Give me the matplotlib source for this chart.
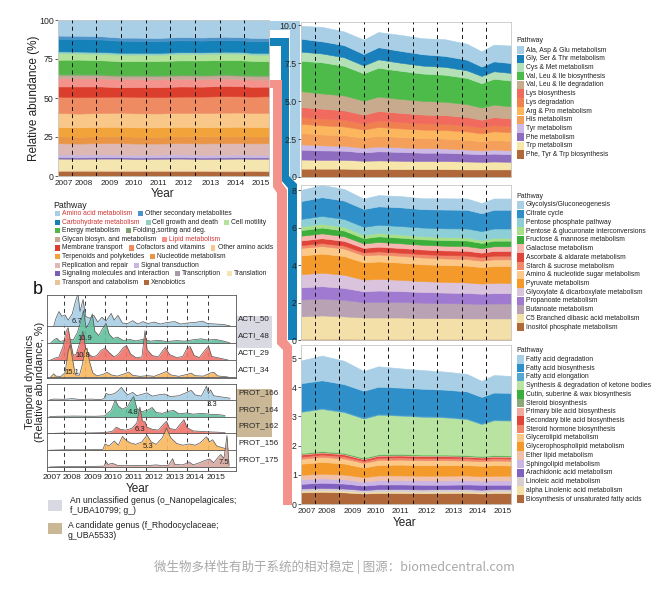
import numpy as np
import matplotlib
matplotlib.use("Agg")
import matplotlib.pyplot as plt
from matplotlib.patches import Rectangle, Polygon

plt.rcParams['font.family'] = ['Liberation Sans', 'DejaVu Sans']

W, H = 672, 596

# ---------------- data ----------------
# time points (fractional year) used for the pathway panels
t_path = [2007.45, 2008.3, 2009.2, 2010.0, 2010.6, 2011.5, 2012.4, 2013.3, 2014.2, 2014.8, 2015.3, 2016.0]
years = [2007, 2008, 2009, 2010, 2011, 2012, 2013, 2014, 2015]
year_labels = [str(y) for y in years]

# panel a : relative abundance (%) of KEGG level-2 pathways, bottom -> top
a_names = ["Xenobiotics", "Transport and catabolism", "Translation", "Transcription",
           "Signaling molecules and interaction", "Signal transduction", "Replication and repair",
           "Nucleotide metabolism", "Terpenoids and polyketides", "Other amino acids",
           "Cofactors and vitamins", "Membrane transport", "Lipid metabolism",
           "Glycan biosyn. and metabolism", "Folding,sorting and deg.", "Energy metabolism",
           "Cell motility", "Cell growth and death", "Carbohydrate metabolism",
           "Other secondary metabolites", "Amino acid metabolism"]
a_colors = ["#b0673a", "#e9c49a", "#f5e6b0", "#a99aa9", "#7b5cb6", "#c7b7e2", "#ddb8b4",
            "#ea9446", "#f2a43a", "#f9c889", "#ef8b63", "#dc3e2d", "#f4938c", "#c9a796",
            "#7fa572", "#52b747", "#b3e39b", "#93d0c2", "#1482b8", "#4b93c8", "#a9cfe6"]
a_values = [
    [3.2, 3.3, 3.2, 3.1, 3.2, 3.2, 3.1, 3.1, 3.0, 3.0, 3.1, 3.0],
    [0.6, 0.6, 0.7, 0.6, 0.6, 0.6, 0.7, 0.6, 0.6, 0.6, 0.6, 0.6],
    [7.2, 7.0, 7.1, 7.3, 7.0, 7.1, 7.2, 7.1, 7.3, 7.4, 7.2, 7.3],
    [0.4, 0.4, 0.4, 0.4, 0.4, 0.4, 0.4, 0.4, 0.4, 0.4, 0.4, 0.4],
    [0.6, 0.6, 0.6, 0.6, 0.6, 0.6, 0.6, 0.6, 0.6, 0.6, 0.6, 0.6],
    [1.8, 1.9, 1.8, 1.7, 1.8, 1.8, 1.9, 1.8, 1.7, 1.8, 1.8, 1.8],
    [7.2, 7.0, 7.3, 7.4, 7.2, 7.1, 7.2, 7.3, 7.4, 7.3, 7.2, 7.3],
    [4.4, 4.3, 4.4, 4.5, 4.4, 4.3, 4.4, 4.5, 4.4, 4.5, 4.4, 4.4],
    [6.0, 6.1, 6.0, 5.9, 6.0, 6.1, 6.0, 5.9, 6.0, 6.0, 6.1, 6.0],
    [9.0, 8.8, 8.9, 9.1, 9.0, 8.9, 9.0, 9.1, 9.2, 9.1, 9.0, 9.1],
    [10.5, 10.6, 10.4, 10.3, 10.6, 10.5, 10.4, 10.5, 10.6, 10.4, 10.5, 10.6],
    [6.5, 6.8, 6.6, 6.0, 6.2, 6.4, 6.5, 6.4, 6.6, 6.5, 6.3, 6.2],
    [5.3, 5.2, 5.1, 5.1, 5.0, 4.9, 4.9, 4.8, 4.7, 4.6, 4.6, 4.5],
    [2.2, 2.2, 2.1, 2.2, 2.2, 2.1, 2.2, 2.2, 2.1, 2.2, 2.2, 2.2],
    [0.6, 0.6, 0.6, 0.6, 0.6, 0.6, 0.6, 0.6, 0.6, 0.6, 0.6, 0.6],
    [9.0, 9.2, 9.0, 8.8, 8.9, 9.1, 9.0, 9.2, 9.1, 9.3, 9.2, 9.0],
    [4.2, 4.0, 4.1, 4.2, 4.1, 4.0, 4.1, 4.0, 4.2, 4.1, 4.0, 4.1],
    [1.2, 1.2, 1.2, 1.2, 1.2, 1.2, 1.2, 1.2, 1.2, 1.2, 1.2, 1.2],
    [8.0, 8.1, 8.0, 7.7, 7.6, 7.6, 7.6, 7.5, 7.5, 7.4, 7.5, 7.5],
    [2.1, 2.0, 2.1, 2.0, 2.1, 2.0, 2.1, 2.0, 2.1, 2.0, 2.1, 2.0],
]
a_red_names = ["Amino acid metabolism", "Carbohydrate metabolism", "Lipid metabolism"]
a_key_rows = [
    ["Amino acid metabolism", "Other secondary metabolites"],
    ["Carbohydrate metabolism", "Cell growth and death", "Cell motility"],
    ["Energy metabolism", "Folding,sorting and deg."],
    ["Glycan biosyn. and metabolism", "Lipid metabolism"],
    ["Membrane transport", "Cofactors and vitamins", "Other amino acids"],
    ["Terpenoids and polyketides", "Nucleotide metabolism"],
    ["Replication and repair", "Signal transduction"],
    ["Signaling molecules and interaction", "Transcription", "Translation"],
    ["Transport and catabolism", "Xenobiotics"],
]

# right top : amino acid metabolism, bottom -> top
aa_names = ["Phe, Tyr & Trp biosynthesis", "Trp metabolism", "Phe metabolism", "Tyr metabolism",
            "His metabolism", "Arg & Pro metabolism", "Lys degradation", "Lys biosynthesis",
            "Val, Leu & Ile degradation", "Val, Leu & Ile biosynthesis", "Cys & Met metabolism",
            "Gly, Ser & Thr metabolism", "Ala, Asp & Glu metabolism"]
aa_colors = ["#b0673a", "#f7e6aa", "#8e6cc0", "#cdb9e6", "#f4a05a", "#fbb65e", "#f08050",
             "#f06a5e", "#c8ab8d", "#4dbb4a", "#b4e0b8", "#1a80bb", "#a9cfe6"]
aa_values = [
    [0.55, 0.55, 0.55, 0.52, 0.53, 0.52, 0.52, 0.52, 0.50, 0.50, 0.50, 0.50],
    [0.60, 0.58, 0.58, 0.55, 0.56, 0.55, 0.53, 0.53, 0.52, 0.50, 0.52, 0.50],
    [0.65, 0.62, 0.60, 0.55, 0.60, 0.58, 0.55, 0.55, 0.52, 0.50, 0.52, 0.50],
    [0.35, 0.33, 0.32, 0.30, 0.32, 0.30, 0.30, 0.28, 0.27, 0.25, 0.27, 0.25],
    [0.75, 0.72, 0.70, 0.65, 0.70, 0.68, 0.66, 0.65, 0.63, 0.60, 0.63, 0.62],
    [0.60, 0.60, 0.58, 0.55, 0.58, 0.57, 0.56, 0.56, 0.56, 0.52, 0.57, 0.58],
    [0.45, 0.45, 0.44, 0.40, 0.43, 0.42, 0.41, 0.41, 0.40, 0.38, 0.40, 0.40],
    [0.65, 0.65, 0.62, 0.58, 0.62, 0.60, 0.58, 0.57, 0.55, 0.52, 0.53, 0.50],
    [1.05, 1.00, 0.98, 0.92, 0.95, 0.92, 0.90, 0.88, 0.85, 0.80, 0.82, 0.80],
    [2.00, 2.05, 1.95, 1.80, 1.90, 1.85, 1.80, 1.78, 1.72, 1.60, 1.70, 1.70],
    [0.60, 0.58, 0.56, 0.52, 0.55, 0.53, 0.52, 0.52, 0.50, 0.48, 0.50, 0.50],
    [0.85, 0.80, 0.80, 0.75, 0.80, 0.78, 0.75, 0.72, 0.70, 0.62, 0.65, 0.65],
    [0.85, 0.95, 0.90, 0.95, 1.00, 1.05, 1.05, 1.10, 1.05, 1.00, 1.10, 1.15],
]

# right middle : carbohydrate metabolism, bottom -> top
cb_names = ["Inositol phosphate metabolism", "C5 Branched dibasic acid metabolism",
            "Butanoate metabolism", "Propanoate metabolism", "Glyoxylate & dicarboxylate metabolism",
            "Pyruvate metabolism", "Amino & nucleotide sugar metabolism", "Starch & sucrose metabolism",
            "Ascorbate & aldarate metabolism", "Galactose metabolism", "Fructose & mannose metabolism",
            "Pentose & glucuronate interconversions", "Pentose phosphate pathway", "Citrate cycle",
            "Glycolysis/Gluconeogenesis"]
cb_colors = ["#b0673a", "#f3e0a8", "#b9a2b4", "#a07ad0", "#dac3dc", "#f39a2a", "#fcc888",
             "#f08a6a", "#e0453a", "#f4b8b0", "#3cae3c", "#a8e08a", "#8ccfd6", "#2f8fc8", "#a9cfe6"]
cb_values = [
    [0.06, 0.06, 0.06, 0.05, 0.05, 0.05, 0.05, 0.05, 0.05, 0.05, 0.05, 0.05],
    [1.20, 1.25, 1.20, 1.15, 1.15, 1.15, 1.12, 1.12, 1.10, 1.10, 1.10, 1.10],
    [0.90, 0.90, 0.88, 0.82, 0.84, 0.83, 0.82, 0.80, 0.80, 0.78, 0.80, 0.80],
    [0.65, 0.66, 0.64, 0.58, 0.60, 0.58, 0.57, 0.56, 0.56, 0.54, 0.55, 0.55],
    [0.70, 0.72, 0.70, 0.62, 0.62, 0.60, 0.58, 0.57, 0.56, 0.54, 0.55, 0.55],
    [1.00, 1.02, 1.00, 0.92, 0.93, 0.92, 0.90, 0.90, 0.90, 0.88, 0.90, 0.90],
    [0.40, 0.40, 0.40, 0.37, 0.37, 0.36, 0.36, 0.35, 0.35, 0.34, 0.35, 0.35],
    [0.15, 0.16, 0.16, 0.16, 0.17, 0.17, 0.18, 0.18, 0.19, 0.19, 0.20, 0.20],
    [0.25, 0.26, 0.25, 0.24, 0.25, 0.25, 0.25, 0.25, 0.25, 0.24, 0.25, 0.25],
    [0.25, 0.26, 0.25, 0.24, 0.25, 0.25, 0.25, 0.25, 0.25, 0.24, 0.25, 0.25],
    [0.30, 0.31, 0.30, 0.28, 0.30, 0.30, 0.29, 0.30, 0.30, 0.28, 0.30, 0.30],
    [0.20, 0.20, 0.20, 0.18, 0.18, 0.17, 0.17, 0.16, 0.16, 0.15, 0.15, 0.15],
    [0.40, 0.42, 0.42, 0.43, 0.44, 0.45, 0.46, 0.47, 0.48, 0.48, 0.50, 0.50],
    [0.95, 1.00, 0.98, 0.95, 0.98, 1.00, 0.98, 1.00, 1.00, 0.95, 1.00, 1.00],
    [0.60, 0.65, 0.62, 0.55, 0.60, 0.60, 0.58, 0.60, 0.60, 0.55, 0.60, 0.60],
]

# right bottom : lipid metabolism, bottom -> top
lp_names = ["Biosynthesis of unsaturated fatty acids", "alpha Linolenic acid metabolism",
            "Linoleic acid metabolism", "Arachidonic acid metabolism", "Sphingolipid metabolism",
            "Ether lipid metabolism", "Glycerophospholipid metabolism", "Glycerolipid metabolism",
            "Steroid hormone biosynthesis", "Secondary bile acid biosynthesis",
            "Primary bile acid biosynthesis", "Steroid biosynthesis", "Cutin, suberine & wax biosynthesis",
            "Synthesis & degradation of ketone bodies", "Fatty acid elongation",
            "Fatty acid biosynthesis", "Fatty acid degradation"]
lp_colors = ["#b0673a", "#f3e0a8", "#d8cdd0", "#8060c0", "#cbb5e5", "#f0c0a8", "#f39a2a",
             "#fcc888", "#f0866a", "#e0453a", "#f4a8a0", "#8aa878", "#3cae3c", "#b8e3a0",
             "#56a8d0", "#2f8fc8", "#a9cfe6"]
lp_values = [
    [0.40, 0.42, 0.40, 0.36, 0.38, 0.38, 0.37, 0.38, 0.38, 0.36, 0.38, 0.38],
    [0.05, 0.05, 0.05, 0.05, 0.05, 0.05, 0.05, 0.05, 0.05, 0.05, 0.05, 0.05],
    [0.08, 0.08, 0.08, 0.07, 0.08, 0.08, 0.08, 0.08, 0.08, 0.08, 0.08, 0.08],
    [0.16, 0.18, 0.17, 0.15, 0.16, 0.16, 0.16, 0.15, 0.16, 0.17, 0.15, 0.15],
    [0.15, 0.15, 0.15, 0.14, 0.15, 0.15, 0.15, 0.15, 0.15, 0.14, 0.15, 0.15],
    [0.16, 0.16, 0.16, 0.15, 0.16, 0.16, 0.16, 0.16, 0.16, 0.15, 0.16, 0.16],
    [0.38, 0.40, 0.38, 0.33, 0.36, 0.37, 0.36, 0.36, 0.35, 0.36, 0.36, 0.35],
    [0.17, 0.18, 0.17, 0.16, 0.17, 0.17, 0.17, 0.17, 0.16, 0.16, 0.16, 0.16],
    [0.08, 0.08, 0.08, 0.07, 0.08, 0.08, 0.08, 0.08, 0.08, 0.07, 0.08, 0.08],
    [0.06, 0.06, 0.06, 0.05, 0.06, 0.06, 0.06, 0.06, 0.05, 0.05, 0.05, 0.05],
    [0.02, 0.02, 0.02, 0.02, 0.02, 0.02, 0.02, 0.02, 0.02, 0.02, 0.02, 0.02],
    [0.02, 0.02, 0.02, 0.02, 0.02, 0.02, 0.02, 0.02, 0.02, 0.02, 0.02, 0.02],
    [0.01, 0.01, 0.01, 0.01, 0.01, 0.01, 0.01, 0.01, 0.01, 0.01, 0.01, 0.01],
    [1.42, 1.45, 1.40, 1.35, 1.36, 1.32, 1.30, 1.28, 1.24, 1.10, 1.20, 1.20],
    [0.03, 0.03, 0.03, 0.03, 0.03, 0.03, 0.03, 0.03, 0.03, 0.03, 0.03, 0.03],
    [0.95, 0.95, 0.93, 0.92, 0.93, 0.93, 0.93, 0.92, 0.92, 0.90, 0.92, 0.92],
    [0.78, 0.85, 0.80, 0.68, 0.70, 0.66, 0.64, 0.62, 0.60, 0.55, 0.60, 0.58],
]

# panel b : temporal dynamics of selected genomes (relative abundance, %)
acti50_t = [2007.5, 2007.6, 2007.75, 2007.9, 2008.05, 2008.2, 2008.4, 2008.55, 2008.68, 2008.78, 2008.93,
            2009.05, 2009.25, 2009.45, 2009.65, 2009.85, 2010.05, 2010.3, 2010.45, 2010.63, 2010.85,
            2011.1, 2011.35, 2011.6, 2011.85, 2012.1, 2012.4, 2012.7, 2013.0, 2013.4, 2013.7, 2014.0,
            2014.5, 2014.75, 2015.0, 2015.4, 2015.8, 2016.1]
acti50_v = [0.0, 1.5, 3.0, 2.0, 2.3, 1.2, 2.5, 5.0, 6.7, 3.0, 5.5, 2.0, 1.6, 2.2, 0.8, 1.8, 1.0, 2.6,
            1.2, 2.2, 0.6, 0.5, 1.1, 0.4, 0.9, 0.5, 0.8, 0.4, 0.7, 0.9, 0.4, 0.6, 0.8, 1.0, 0.5, 0.4,
            0.3, 0.0]
acti48_t = [2007.35, 2007.5, 2007.65, 2007.8, 2008.0, 2008.2, 2008.45, 2008.65, 2008.85, 2008.95, 2009.08,
            2009.25, 2009.38, 2009.5, 2009.7, 2009.85, 2010.05, 2010.2, 2010.4, 2010.6, 2010.9, 2011.2,
            2011.5, 2011.9, 2012.2, 2012.6, 2013.0, 2013.5, 2013.9, 2014.3, 2014.7, 2015.0, 2015.4,
            2015.8, 2016.1]
acti48_v = [0.0, 1.0, 1.6, 0.5, 0.8, 1.5, 1.0, 3.5, 8.0, 10.9, 5.0, 7.0, 9.8, 4.0, 2.5, 4.5, 6.6, 3.0,
            1.5, 2.0, 0.8, 1.2, 0.7, 1.3, 0.6, 0.9, 0.5, 0.8, 0.6, 1.1, 1.4, 1.0, 1.2, 0.6, 0.0]
acti29_t = [2007.35, 2007.55, 2007.75, 2007.95, 2008.1, 2008.2, 2008.32, 2008.45, 2008.6, 2008.8, 2008.92,
            2009.05, 2009.2, 2009.4, 2009.6, 2009.8, 2010.0, 2010.2, 2010.45, 2010.65, 2010.9, 2011.05,
            2011.25, 2011.5, 2011.8, 2011.95, 2012.05, 2012.3, 2012.6, 2012.8, 2012.95, 2013.15, 2013.5,
            2013.8, 2014.0, 2014.15, 2014.35, 2014.6, 2014.9, 2015.05, 2015.2, 2015.6, 2016.0]
acti29_v = [0.0, 0.6, 1.0, 4.5, 9.5, 10.8, 6.0, 1.5, 2.0, 6.5, 9.6, 4.0, 2.0, 1.0, 1.5, 3.2, 4.0, 2.5,
            1.0, 2.0, 4.2, 4.8, 2.0, 0.8, 1.0, 9.8, 3.5, 1.5, 1.0, 3.0, 4.2, 1.8, 0.8, 1.2, 4.0, 4.5,
            1.5, 0.8, 3.5, 4.6, 1.2, 0.6, 0.0]
acti34_t = [2007.35, 2007.5, 2007.6, 2007.85, 2008.05, 2008.2, 2008.3, 2008.42, 2008.55, 2008.75, 2008.9,
            2009.0, 2009.12, 2009.25, 2009.4, 2009.6, 2009.9, 2010.1, 2010.3, 2010.6, 2010.95, 2011.15,
            2011.35, 2011.7, 2012.1, 2012.4, 2012.8, 2013.0, 2013.2, 2013.6, 2014.0, 2014.2, 2014.4,
            2014.8, 2015.15, 2015.3, 2015.5, 2015.8, 2016.0]
acti34_v = [0.0, 1.5, 0.4, 0.3, 2.0, 12.0, 15.1, 8.0, 1.0, 0.8, 6.0, 12.5, 13.5, 7.0, 2.0, 0.5, 1.2,
            2.2, 1.0, 0.4, 1.5, 2.3, 0.8, 0.3, 0.6, 0.3, 1.8, 2.6, 1.0, 0.3, 1.2, 1.8, 0.6, 0.4, 1.9,
            2.2, 0.5, 0.2, 0.0]
prot166_t = [2007.3, 2007.5, 2008.0, 2008.4, 2008.8, 2009.3, 2009.8, 2009.95, 2010.05, 2010.2, 2010.45,
             2010.6, 2010.8, 2010.95, 2011.1, 2011.35, 2011.55, 2011.85, 2012.05, 2012.3, 2012.6, 2012.9,
             2013.2, 2013.6, 2014.0, 2014.2, 2014.4, 2014.7, 2014.95, 2015.05, 2015.15, 2015.3, 2015.7,
             2016.1]
prot166_v = [0.0, 0.2, 0.15, 0.3, 0.1, 0.2, 0.1, 0.3, 1.6, 1.2, 1.5, 2.0, 3.0, 2.0, 1.2, 1.8, 1.0, 1.4,
             1.7, 0.9, 1.2, 1.4, 0.8, 1.0, 1.8, 2.3, 1.2, 0.9, 3.3, 1.5, 2.4, 1.0, 0.7, 0.4]
prot164_t = [2007.3, 2007.6, 2008.5, 2009.5, 2010.0, 2010.1, 2010.3, 2010.5, 2010.65, 2010.85, 2011.1,
             2011.3, 2011.4, 2011.55, 2011.8, 2012.1, 2012.3, 2012.5, 2012.8, 2013.1, 2013.35, 2013.6,
             2014.0, 2014.3, 2014.7, 2015.1, 2015.5, 2015.85]
prot164_v = [0.0, 0.1, 0.15, 0.1, 0.2, 0.8, 1.5, 4.0, 2.5, 1.8, 2.4, 4.2, 4.8, 2.0, 1.2, 1.6, 2.2, 1.0,
             0.8, 1.3, 1.5, 0.7, 0.9, 0.6, 0.8, 0.6, 0.5, 0.3]
prot162_t = [2007.3, 2008.0, 2009.0, 2010.0, 2010.35, 2010.55, 2010.75, 2011.0, 2011.3, 2011.55, 2011.7,
             2011.82, 2011.95, 2012.05, 2012.3, 2012.6, 2012.85, 2013.0, 2013.15, 2013.45, 2013.7,
             2013.85, 2014.0, 2014.3, 2014.7, 2015.0, 2015.5, 2015.85]
prot162_v = [0.0, 0.1, 0.1, 0.2, 0.5, 1.5, 1.0, 0.8, 1.2, 2.5, 6.3, 3.0, 2.8, 1.5, 1.0, 0.8, 2.2, 2.9,
             1.2, 0.9, 2.4, 3.3, 1.4, 0.6, 0.5, 0.4, 0.3, 0.2]
prot156_t = [2007.3, 2008.0, 2009.0, 2009.9, 2010.0, 2010.2, 2010.45, 2010.65, 2010.85, 2011.0, 2011.2,
             2011.5, 2011.8, 2012.05, 2012.25, 2012.5, 2012.8, 2013.0, 2013.2, 2013.5, 2013.8, 2014.1,
             2014.4, 2014.65, 2014.95, 2015.1, 2015.25, 2015.45, 2015.8, 2016.0]
prot156_v = [0.0, 0.1, 0.1, 0.2, 1.5, 1.0, 2.2, 1.2, 3.3, 2.5, 1.8, 1.4, 2.0, 3.6, 2.0, 1.4, 3.0, 5.3,
             3.0, 1.6, 1.2, 1.5, 1.2, 1.8, 3.2, 2.0, 2.5, 1.0, 0.5, 0.3]
prot175_t = [2007.3, 2008.0, 2009.0, 2009.95, 2010.05, 2010.15, 2010.35, 2010.6, 2011.0, 2011.5, 2012.0,
             2012.5, 2012.8, 2013.1, 2013.3, 2013.4, 2013.8, 2014.1, 2014.3, 2014.6, 2014.9, 2015.1,
             2015.3, 2015.5, 2015.65, 2015.8, 2015.95, 2016.05]
prot175_v = [0.0, 0.1, 0.1, 0.2, 1.3, 0.6, 0.9, 0.4, 0.3, 0.4, 0.3, 0.5, 0.3, 0.4, 2.0, 0.6, 0.5, 1.2,
             0.5, 1.0, 1.6, 1.9, 1.0, 2.2, 3.0, 2.0, 7.5, 0.4]

b_top_rows = ["ACTI_50", "ACTI_48", "ACTI_29", "ACTI_34"]
b_top_series = [(acti50_t, acti50_v), (acti48_t, acti48_v), (acti29_t, acti29_v), (acti34_t, acti34_v)]
b_top_peak = ["6.7", "10.9", "10.8", "15.1"]
b_top_peak_t = [2008.63, 2009.0, 2008.93, 2008.4]
b_bot_rows = ["PROT_166", "PROT_164", "PROT_162", "PROT_156", "PROT_175"]
b_bot_series = [(prot166_t, prot166_v), (prot164_t, prot164_v), (prot162_t, prot162_v),
                (prot156_t, prot156_v), (prot175_t, prot175_v)]
b_bot_peak = ["3.3", "4.8", "6.3", "5.3", "7.5"]
b_bot_peak_t = [2015.2, 2011.37, 2011.7, 2012.1, 2015.8]
b_row_colors = ["#a9cfe6", "#62c09e", "#f0726a", "#f9b85e", "#d8a8a0"]

# ---------------- figure ----------------
fig = plt.figure(figsize=(W / 100, H / 100), dpi=100)


def fx(x):
    return x / W


def fy(y):
    return 1 - y / H


def axes_px(x0, y0, x1, y1):
    return fig.add_axes([x0 / W, 1 - y1 / H, (x1 - x0) / W, (y1 - y0) / H])


def rect_px(x0, y0, w, h, color, z=1):
    fig.add_artist(Rectangle((fx(x0), fy(y0 + h)), w / W, h / H, transform=fig.transFigure,
                             facecolor=color, edgecolor='none', zorder=z))


def poly_px(points, color):
    pts = [(fx(x), fy(y)) for x, y in points]
    fig.add_artist(Polygon(pts, closed=True, transform=fig.transFigure, facecolor=color,
                           edgecolor='none', zorder=-1))


label_pos = [2007.7, 2008.5, 2009.55, 2010.5, 2011.5, 2012.55, 2013.65, 2014.65, 2015.65]
XMIN, XMAX = 2007.45, 2016.0


def pathway_panel(ax, values, colors, ytop, yticks, yticklabels, show_x):
    polys = ax.stackplot(t_path, *values, colors=colors, linewidth=0.4)
    for p in polys:
        p.set_edgecolor(p.get_facecolor())
    for yr in years[1:]:
        ax.axvline(yr, color='#111111', lw=0.7, ls=(0, (4, 3.5)), zorder=5)
    ax.set_xlim(XMIN, XMAX)
    ax.set_ylim(0, ytop)
    ax.set_yticks(yticks)
    ax.set_yticklabels(yticklabels, fontsize=6.3, color='#222222')
    ax.tick_params(axis='y', length=2, width=0.5, pad=1, colors='#222222')
    if show_x:
        ax.set_xticks(label_pos)
        ax.set_xticklabels(year_labels, fontsize=5.9, color='#222222')
        ax.tick_params(axis='x', length=0, pad=3)
    else:
        ax.set_xticks([])
    for s in ax.spines.values():
        s.set_color('#c8c8c8')
        s.set_linewidth(0.6)


# connector bands between panel a and the detail panels
poly_px([(269, 21), (300, 21), (300, 178), (290, 178), (290, 30), (269, 30)], "#a9cfe6")
poly_px([(269, 38), (289, 38), (289, 176), (297, 184), (297, 340), (288, 340), (288, 188),
         (281, 180), (281, 46), (269, 46)], "#1482b8")
poly_px([(269, 80), (282, 80), (282, 183), (287, 190), (287, 340), (292, 346), (292, 505),
         (283, 505), (283, 350), (277, 344), (277, 193), (273, 187), (273, 88), (269, 88)], "#f4938c")

# panel a
amino_rest = 100 - np.sum(a_values, axis=0)
ax_a = axes_px(58, 20, 269, 176)
pathway_panel(ax_a, a_values + [amino_rest], a_colors, 100, [0, 25, 50, 75, 100],
              ["0", "25", "50", "75", "100"], True)
fig.text(fx(34), fy(98), "Relative abundance (%)", rotation=90, fontsize=8.5, ha='center',
         va='center', color='#222222')
fig.text(fx(163), fy(194), "Year", fontsize=8.5, ha='center', va='center', color='#222222')

# panel a key
renderer = fig.canvas.get_renderer()
fig.text(fx(53), fy(205), "Pathway", fontsize=6.3, va='center', color='#222222')
a_color_of = dict(zip(a_names, a_colors))
for r, row in enumerate(a_key_rows):
    x = 55
    y = 213.5 + r * 8.6
    for name in row:
        rect_px(x, y - 2.6, 5, 5.2, a_color_of[name])
        tcol = '#d03535' if name in a_red_names else '#222222'
        t = fig.text(fx(x + 7), fy(y), name, fontsize=4.9, va='center', color=tcol)
        x += 7 + t.get_window_extent(renderer).width + 6

# right detail panels
ax_aa = axes_px(301, 22, 511, 177)
pathway_panel(ax_aa, aa_values, aa_colors, 10.2, [0, 2.5, 5.0, 7.5, 10.0],
              ["0", "2.5", "5.0", "7.5", "10.0"], False)
ax_cb = axes_px(301, 185, 511, 340)
pathway_panel(ax_cb, cb_values, cb_colors, 8.27, [0, 2, 4, 6, 8], ["0", "2", "4", "6", "8"], False)
ax_lp = axes_px(301, 345, 511, 504)
pathway_panel(ax_lp, lp_values, lp_colors, 5.45, [0, 1, 2, 3, 4, 5],
              ["0", "1", "2", "3", "4", "5"], True)
fig.text(fx(405), fy(523), "Year", fontsize=8.5, ha='center', va='center', color='#222222')


def key_column(y_title, y_first, names, colors):
    fig.text(fx(516), fy(y_title), "Pathway", fontsize=5.0, va='center', color='#222222')
    for i, (n, c) in enumerate(zip(names, colors)):
        yc = y_first + i * 8.72
        rect_px(517, yc - 4.2, 7, 8.4, c)
        fig.text(fx(526), fy(yc), n, fontsize=4.9, va='center', color='#222222')


key_column(41, 50, aa_names[::-1], aa_colors[::-1])
key_column(196, 205, cb_names[::-1], cb_colors[::-1])
key_column(351, 359.5, lp_names[::-1], lp_colors[::-1])

# panel b
fig.text(fx(38), fy(289), "b", fontsize=13, ha='center', va='center', color='#111111')
rect_px(236, 316, 36, 32, "#d9d9e4", z=-1)
rect_px(236, 389, 36, 48, "#c9b795", z=-1)


def ridge_panel(ax, rows, series, peaks, peak_t, scales, ylim):
    n = len(rows)
    for i, (name, (t, v)) in enumerate(zip(rows, series)):
        base = n - 1 - i
        y = base + np.asarray(v) * scales[i]
        z = 2 + i
        col = b_row_colors[i]
        ax.fill_between(t, base, y, color=col, lw=0, alpha=0.9, zorder=z)
        ax.plot(t, y, color='#555555', lw=0.5, zorder=z + 0.1)
        ax.axhline(base, color='#555555', lw=0.6, zorder=z + 0.2)
        ax.text(1.012, base + 0.22, name, transform=ax.get_yaxis_transform(), fontsize=5.8,
                va='bottom', ha='left', color='#222222')
        dy = -0.5 if name == "PROT_166" else 0.04
        ax.text(peak_t[i], base + dy, peaks[i], fontsize=5.5, ha='center', va='bottom',
                color='#222222', zorder=20)
    for yr in years[1:]:
        ax.axvline(yr, color='#333333', lw=0.7, ls=(0, (4, 3.5)), zorder=1)
    ax.set_xlim(2007.17, 2016.39)
    ax.set_ylim(*ylim)
    ax.set_yticks([])
    for s in ax.spines.values():
        s.set_color('#555555')
        s.set_linewidth(0.6)


ax_b1 = axes_px(47, 295, 236, 378)
top_scales = [1.9 / max(v) for _, v in b_top_series]
ridge_panel(ax_b1, b_top_rows, b_top_series, b_top_peak, b_top_peak_t, top_scales, (-0.06, 4.82))
ax_b1.set_xticks([])

ax_b2 = axes_px(47, 384, 236, 471)
ridge_panel(ax_b2, b_bot_rows, b_bot_series, b_bot_peak, b_bot_peak_t, [0.25] * 5, (-0.24, 4.95))
ax_b2.set_xticks([y + 0.4 for y in years])
ax_b2.set_xticklabels(year_labels, fontsize=6.0, color='#222222')
ax_b2.tick_params(axis='x', length=0, pad=2)
fig.text(fx(138), fy(489), "Year", fontsize=8.5, ha='center', va='center', color='#222222')
fig.text(fx(35), fy(382), "Temporal dynamics\n(Relative abundance, %)", rotation=90, fontsize=7.8,
         ha='center', va='center', color='#222222', linespacing=0.95)

# panel b key
rect_px(48, 500, 14, 11, "#d9d9e4")
fig.text(fx(70), fy(505.5), "An unclassified genus (o_Nanopelagicales;\nf_UBA10799; g_)", fontsize=6.2,
         va='center', color='#222222', linespacing=1.1)
rect_px(48, 523, 14, 11, "#c9b795")
fig.text(fx(68), fy(530.5), "A candidate genus (f_Rhodocyclaceae;\ng_UBA5533)", fontsize=6.2,
         va='center', color='#222222', linespacing=1.1)

# caption
fig.text(0.497, fy(567), "微生物多样性有助于系统的相对稳定 | 图源：biomedcentral.com",
         family=['Noto Sans CJK SC', 'DejaVu Sans'], fontsize=9, color='#a8a8a8', ha='center', va='center')

fig.savefig("out.png", dpi=100)
